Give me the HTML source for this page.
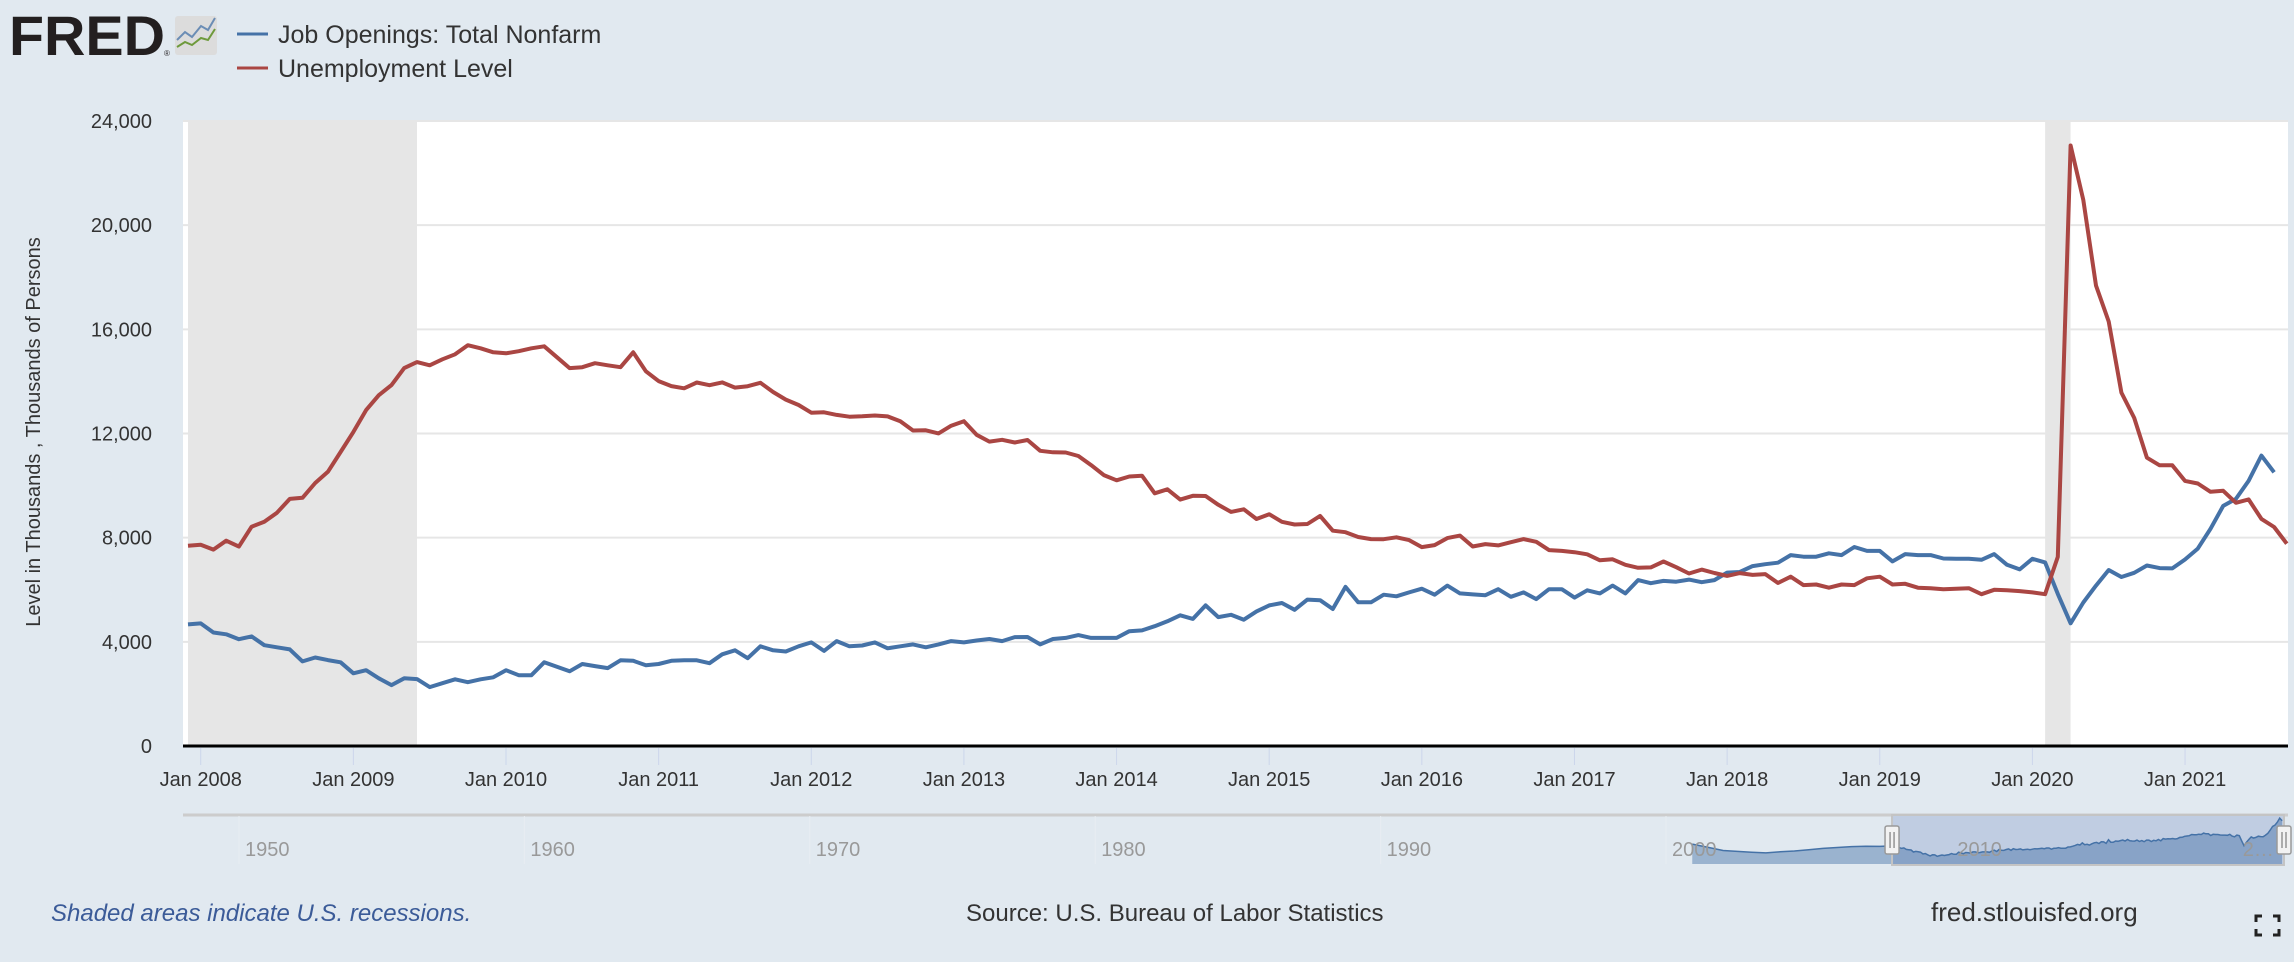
<!DOCTYPE html>
<html><head><meta charset="utf-8"><style>
html,body{margin:0;padding:0;background:#e1e9f0;}
body{width:2294px;height:962px;overflow:hidden;font-family:"Liberation Sans",sans-serif;}
svg{display:block}
</style></head><body>
<svg id="chart" width="2294" height="962" xmlns="http://www.w3.org/2000/svg" font-family="Liberation Sans, sans-serif">
  <rect x="0" y="0" width="2294" height="962" fill="#e1e9f0"/>
  <g>
    <text x="9" y="55" font-size="56" font-weight="bold" fill="#231f20" textLength="156" lengthAdjust="spacingAndGlyphs">FRED</text>
    <text x="164" y="56" font-size="8" fill="#231f20">®</text>
    <rect x="175" y="16" width="42" height="39" rx="3" fill="#dcdcdc"/>
    <polyline points="177,40 185,32 192,37 201,26 208,30 215,18" fill="none" stroke="#6b8db5" stroke-width="2"/>
    <polyline points="177,47 185,42 192,45 201,38 208,40 215,29" fill="none" stroke="#6e9a3c" stroke-width="2"/>
  </g>
  <g>
    <g>
      <line x1="237" y1="34" x2="268" y2="34" stroke="#4572a7" stroke-width="3"/>
      <text x="278" y="43" font-size="25" fill="#333">Job Openings: Total Nonfarm</text>
    </g>
    <g>
      <line x1="237" y1="68" x2="268" y2="68" stroke="#aa4643" stroke-width="3"/>
      <text x="278" y="77" font-size="25" fill="#333">Unemployment Level</text>
    </g>
  </g>
  <rect x="183" y="120" width="2105" height="625" fill="#ffffff"/>
  <g id="recessions"></g>
  <g id="grid"></g>
  <g id="yticks"></g>
  <text transform="translate(40,432) rotate(-90)" text-anchor="middle" font-size="20" fill="#333">Level in Thousands , Thousands of Persons</text>
  <g id="series"></g>
  <line x1="183" y1="746" x2="2288" y2="746" stroke="#000" stroke-width="3"/>
  <g id="xticks"></g>
  <g id="nav"></g>
  <text x="51" y="921" font-size="24" font-style="italic" fill="#3b5b98">Shaded areas indicate U.S. recessions.</text>
  <text x="966" y="921" font-size="24" fill="#333">Source: U.S. Bureau of Labor Statistics</text>
  <text x="1931" y="921" font-size="26" fill="#333">fred.stlouisfed.org</text>
  <g fill="none" stroke="#222" stroke-width="3">
    <polyline points="2256,922 2256,916 2262,916"/>
    <polyline points="2273,916 2279,916 2279,922"/>
    <polyline points="2256,929 2256,935 2262,935"/>
    <polyline points="2273,935 2279,935 2279,929"/>
  </g>
</svg>
<script>
// Monthly data, index 0 = Dec 2007
const unemployment = [7690,7730,7540,7885,7656,8420,8610,8960,9490,9530,10100,10530,11290,
12060,12900,13470,13860,14510,14740,14620,14850,15040,15390,15270,15120,
15080,15160,15270,15350,14930,14510,14545,14700,14620,14545,15120,14390,
14013,13820,13737,13957,13855,13962,13763,13818,13948,13594,13302,13093,
12797,12813,12713,12646,12660,12692,12656,12471,12115,12124,12005,12298,
12471,11950,11689,11760,11654,11751,11335,11279,11270,11136,10787,10404,
10202,10349,10380,9702,9859,9460,9608,9599,9262,8990,9090,8717,
8903,8610,8504,8526,8834,8268,8209,8026,7946,7942,8013,7907,
7637,7715,7984,8081,7662,7753,7702,7827,7945,7842,7522,7493,
7441,7362,7130,7169,6958,6843,6858,7085,6865,6624,6775,6643,
6530,6640,6570,6600,6260,6500,6180,6200,6080,6200,6180,6440,
6500,6200,6230,6080,6060,6020,6040,6060,5830,6000,5980,5950,
5900,5830,7260,23060,20970,17680,16300,13570,12600,11070,10780,10780,
10180,10080,9760,9800,9340,9470,8720,8410,7770];
const jobOpenings = [4670,4708,4360,4290,4100,4210,3870,3790,3710,3250,3400,3300,3215,
2790,2910,2600,2340,2600,2570,2260,2410,2560,2450,2560,2640,
2910,2720,2720,3215,3040,2870,3150,3070,2990,3290,3270,3100,
3150,3270,3290,3290,3180,3520,3675,3370,3830,3675,3630,3830,
3980,3650,4030,3830,3860,3980,3750,3830,3900,3790,3900,4030,
3980,4050,4110,4030,4180,4185,3900,4110,4150,4260,4150,4150,
4150,4410,4440,4600,4790,5020,4880,5400,4950,5040,4850,5170,
5400,5490,5230,5620,5600,5260,6110,5520,5520,5810,5750,5900,
6040,5810,6160,5860,5820,5790,6020,5730,5900,5640,6020,6020,
5700,5980,5860,6160,5860,6370,6250,6340,6310,6390,6290,6370,
6660,6680,6910,6980,7040,7330,7270,7270,7400,7330,7640,7490,
7490,7090,7370,7330,7330,7200,7190,7190,7150,7370,6960,6780,
7190,7050,5840,4710,5510,6160,6760,6490,6650,6930,6830,6820,
7160,7580,8340,9220,9490,10180,11150,10510];
const yTicks = [0,4000,8000,12000,16000,20000,24000];
const yTickLabels = ["0","4,000","8,000","12,000","16,000","20,000","24,000"];
const xTickYears = [2008,2009,2010,2011,2012,2013,2014,2015,2016,2017,2018,2019,2020,2021];
const recessionStart = [0,146];   // month index
const recessionEnd = [18,148];
const navDecades = [1950,1960,1970,1980,1990,2000,2010,2020];
const navEarlyYears = [2000.92,2001.5,2002,2002.5,2003,2003.5,2004,2004.5,2005,2005.5,2006,2006.5,2007,2007.5,2007.9];
const navEarlyVals = [5100,4300,3600,3400,3200,3050,3300,3500,3800,4100,4300,4500,4600,4550,4670];

const NS='http://www.w3.org/2000/svg';
const X0=188, DX=12.72, Y0=746, PY=625/24000;
const xs = i => X0 + i*DX;
const ys = v => Y0 - v*PY;
function mk(tag, attrs, parent){const e=document.createElementNS(NS,tag);for(const k in attrs)e.setAttribute(k,attrs[k]);parent.appendChild(e);return e;}

const rec=document.getElementById('recessions');
for(let r=0;r<recessionStart.length;r++){
  const x1=Math.max(183,xs(recessionStart[r])), x2=xs(recessionEnd[r]);
  const e=mk('rect',{x:x1,y:120,width:x2-x1,height:625,fill:'#e6e6e6'},rec);
  
  
}
const grid=document.getElementById('grid'), yt=document.getElementById('yticks');
yTicks.forEach((v,i)=>{
  if(v>0){const g=mk('line',{x1:183,x2:2288,y1:ys(v),y2:ys(v),stroke:'#e6e6e6','stroke-width':2},grid);
  
  }
  const t=mk('text',{x:152,y:ys(v)+7,'text-anchor':'end','font-size':20,fill:'#333'},yt);
  t.textContent=yTickLabels[i];
  
  
});
const xt=document.getElementById('xticks');
xTickYears.forEach(yr=>{
  const x=xs((yr-2008)*12+1);
  const l=mk('line',{x1:x,x2:x,y1:748,y2:765,stroke:'#ccd6eb','stroke-width':1},xt);
  
  
  const t=mk('text',{x:x,y:786,'text-anchor':'middle','font-size':20,fill:'#333'},xt);
  t.textContent='Jan '+yr;
  
  
});
const ser=document.getElementById('series');
function line(data,color,name){
  const d=data.map((v,i)=>(i?'L':'M')+xs(i).toFixed(1)+','+ys(v).toFixed(1)).join('');
  const p=mk('path',{d:d,fill:'none',stroke:color,'stroke-width':4,'stroke-linejoin':'round'},ser);
  
  
}
line(jobOpenings,'#4572a7','job-openings-line');
line(unemployment,'#aa4643','unemployment-line');

// navigator
const nav=document.getElementById('nav');
const NX=yr=>1666+(yr-2000)*28.54, NY=v=>866-v*0.0043;
mk('line',{x1:183,x2:2288,y1:815,y2:815,stroke:'#cccccc','stroke-width':3},nav);
navDecades.forEach(dec=>{
  const x=NX(dec);
  const l=mk('line',{x1:x,x2:x,y1:816,y2:864,stroke:'#e8edf2','stroke-width':1},nav);
  
  
});
const selX1=NX(2007.92), selX2=2284;
const sel=mk('rect',{x:selX1,y:816,width:selX2-selX1,height:48,fill:'#c0cde2'},nav);


let pts=navEarlyYears.map((yr,i)=>[NX(yr),NY(navEarlyVals[i])]);
jobOpenings.forEach((v,i)=>pts.push([NX(2007.92+i/12),NY(v)]));
const ad='M'+pts[0][0]+',864'+pts.map(p=>'L'+p[0].toFixed(1)+','+p[1].toFixed(1)).join('')+'L'+pts[pts.length-1][0]+',864Z';
const area=mk('path',{d:ad,fill:'#4572a7','fill-opacity':0.45},nav);


const ln=mk('path',{d:'M'+pts.map(p=>p[0].toFixed(1)+','+p[1].toFixed(1)).join('L'),fill:'none',stroke:'#4572a7','stroke-width':1.5},nav);


navDecades.forEach(dec=>{
  const t=mk('text',{x:NX(dec)+6,y:856,'font-size':20,fill:'#999'},nav);
  t.textContent=dec===2020?'2…':String(dec);
  
  
});
mk('rect',{x:selX1,y:815,width:selX2-selX1,height:50,fill:'none',stroke:'#c4c4c4','stroke-width':2},nav);
[selX1,selX2].forEach((hx,k)=>{
  const h=mk('rect',{x:hx-7,y:826,width:14,height:28,rx:2,fill:'#f2f2f2',stroke:'#999','stroke-width':1.5},nav);
  
  
  mk('line',{x1:hx-2,x2:hx-2,y1:832,y2:848,stroke:'#666','stroke-width':1},nav);
  mk('line',{x1:hx+2,x2:hx+2,y1:832,y2:848,stroke:'#666','stroke-width':1},nav);
});
</script>
</body></html>
